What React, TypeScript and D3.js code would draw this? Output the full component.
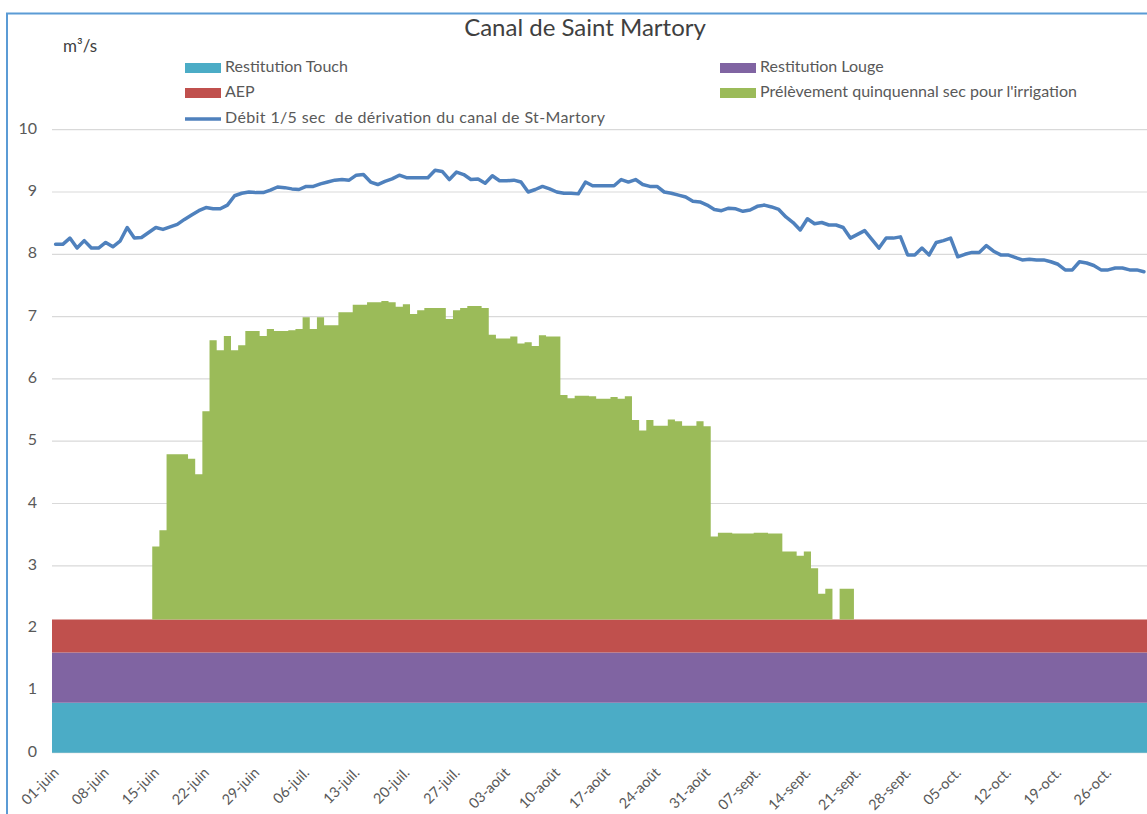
import React from "react";
import * as d3 from "d3";

// ---- Data ----
const startDate = new Date(2019, 5, 1); // 01-juin
const endDate = new Date(2019, 10, 1); // exclusive, 31-oct last
const days = d3.timeDay.range(startDate, endDate); // 153 categories

const tickLabels = [
  "01-juin", "08-juin", "15-juin", "22-juin", "29-juin",
  "06-juil.", "13-juil.", "20-juil.", "27-juil.",
  "03-août", "10-août", "17-août", "24-août", "31-août",
  "07-sept.", "14-sept.", "21-sept.", "28-sept.",
  "05-oct.", "12-oct.", "19-oct.", "26-oct.",
];
const tickStep = 7;

// constant stacked components (m3/s)
const restitutionTouch = 0.8;
const restitutionLouge = 0.81;
const aep = 0.53;

// Prélèvement quinquennal sec (starts 15-juin, index 14)
const prelevementStart = 14;
const prelevement = [
  1.17, 1.43, 2.65, 2.65, 2.65, 2.58, 2.33, 3.34, 4.48, 4.32,
  4.55, 4.32, 4.40, 4.63, 4.63, 4.55, 4.66, 4.63, 4.63, 4.64,
  4.66, 4.85, 4.66, 4.85, 4.72, 4.72, 4.93, 4.93, 5.05, 5.05,
  5.09, 5.09, 5.11, 5.09, 5.02, 5.06, 4.90, 4.96, 5.00, 5.00,
  5.00, 4.82, 4.96, 5.00, 5.03, 5.03, 5.00, 4.57, 4.51, 4.51,
  4.54, 4.43, 4.45, 4.39, 4.56, 4.54, 4.54, 3.60, 3.55, 3.59,
  3.59, 3.58, 3.54, 3.54, 3.57, 3.54, 3.58, 3.20, 3.03, 3.20,
  3.11, 3.11, 3.21, 3.18, 3.11, 3.11, 3.18, 3.10, 1.33, 1.39,
  1.39, 1.38, 1.38, 1.38, 1.39, 1.39, 1.38, 1.38, 1.09, 1.09,
  1.02, 1.09, 0.82, 0.41, 0.49, 0.0, 0.49, 0.49,
];

// Débit 1/5 sec de dérivation (one value per day)
const debit = [
  8.16, 8.16, 8.26, 8.10, 8.22, 8.10, 8.10, 8.19, 8.12, 8.21,
  8.43, 8.26, 8.27, 8.35, 8.43, 8.40, 8.44, 8.48, 8.56, 8.63,
  8.70, 8.75, 8.73, 8.73, 8.79, 8.94, 8.98, 9.00, 8.99, 8.99,
  9.03, 9.08, 9.07, 9.05, 9.04, 9.09, 9.09, 9.13, 9.16, 9.19,
  9.20, 9.19, 9.27, 9.28, 9.16, 9.12, 9.17, 9.21, 9.27, 9.23,
  9.23, 9.23, 9.23, 9.35, 9.33, 9.20, 9.32, 9.28, 9.20, 9.21,
  9.14, 9.26, 9.18, 9.18, 9.19, 9.16, 9.00, 9.04, 9.09, 9.05,
  9.00, 8.98, 8.98, 8.97, 9.16, 9.10, 9.10, 9.10, 9.10, 9.20,
  9.16, 9.20, 9.12, 9.09, 9.09, 9.00, 8.98, 8.95, 8.92, 8.85,
  8.84, 8.79, 8.72, 8.70, 8.74, 8.73, 8.69, 8.71, 8.77, 8.79,
  8.76, 8.72, 8.60, 8.51, 8.39, 8.57, 8.49, 8.51, 8.47, 8.47,
  8.43, 8.26, 8.32, 8.38, 8.24, 8.10, 8.26, 8.26, 8.28, 7.99,
  7.99, 8.10, 7.99, 8.19, 8.22, 8.26, 7.96, 8.00, 8.03, 8.03,
  8.14, 8.05, 7.99, 7.99, 7.95, 7.91, 7.92, 7.91, 7.91, 7.88,
  7.84, 7.75, 7.75, 7.88, 7.86, 7.82, 7.75, 7.75, 7.78, 7.78,
  7.75, 7.75, 7.72,
];

const yTicks = [0, 1, 2, 3, 4, 5, 6, 7, 8, 9, 10];

const seriesNames = {
  touch: "Restitution Touch",
  louge: "Restitution Louge",
  aep: "AEP",
  prel: "Prélèvement quinquennal sec pour l'irrigation",
  debit: "Débit 1/5 sec  de dérivation du canal de St-Martory",
};

const colors = {
  touch: "#4BACC6",
  louge: "#8064A2",
  aep: "#C0504D",
  prel: "#9BBB59",
  debit: "#4F81BD",
};

const FONT = "Lato, 'Open Sans', sans-serif";

export default function App() {
  const W = 1147;
  const H = 814;
  const left = 52;
  const right = 1147.5;
  const y0 = 752.7;
  const y10 = 129.7;

  const idx = days.map((_, i) => i);
  const x = d3.scaleBand<number>().domain(idx).range([left, right]).padding(0);
  const y = d3.scaleLinear().domain([0, 10]).range([y0, y10]);
  const bw = x.bandwidth();

  const rows = idx.map((i) => {
    const p = i >= prelevementStart && i < prelevementStart + prelevement.length
      ? prelevement[i - prelevementStart]
      : 0;
    return { i, touch: restitutionTouch, louge: restitutionLouge, aep, prel: p };
  });
  const stack = d3.stack<any>().keys(["touch", "louge", "aep", "prel"]);
  const stacked = stack(rows);

  // step area: each category contributes its left and right band edges
  const stepArea = d3
    .area<{ px: number; lo: number; hi: number }>()
    .x((d) => d.px)
    .y0((d) => y(d.lo))
    .y1((d) => y(d.hi));

  const layerPath = (s: any) => {
    const pts: { px: number; lo: number; hi: number }[] = [];
    s.forEach((d: any, i: number) => {
      const x0 = x(i) as number;
      pts.push({ px: x0, lo: d[0], hi: d[1] });
      pts.push({ px: x0 + bw, lo: d[0], hi: d[1] });
    });
    return stepArea(pts) as string;
  };

  const line = d3
    .line<number>()
    .x((_, i) => (x(i) as number) + bw / 2)
    .y((d) => y(d));

  const legendItems = [
    { key: "touch", x: 185, y: 68, type: "rect" },
    { key: "louge", x: 720, y: 68, type: "rect" },
    { key: "aep", x: 185, y: 93, type: "rect" },
    { key: "prel", x: 720, y: 93, type: "rect" },
    { key: "debit", x: 185, y: 119, type: "line" },
  ] as const;

  return (
    <svg
      width={W}
      height={H}
      style={{ position: "absolute", left: 0, top: 0, background: "#fff" }}
      fontFamily={FONT}
    >
      <rect x={0} y={0} width={W} height={H} fill="#fff" />
      {/* chart border */}
      <rect x={7} y={13.5} width={1160} height={820} fill="none" stroke="#5B9BD5" strokeWidth={2} />

      {/* title */}
      <text x={585} y={30} textAnchor="middle" dominantBaseline="middle" fontSize={24} fill="#404040">
        Canal de Saint Martory
      </text>
      <text x={63} y={48} dominantBaseline="middle" fontSize={17} fill="#404040">
        m³/s
      </text>

      {/* gridlines */}
      {yTicks.map((t) => (
        <line key={t} x1={left} x2={right} y1={y(t)} y2={y(t)} stroke="#D9D9D9" strokeWidth={1.2} />
      ))}

      {/* stacked layers */}
      {stacked.map((s) => (
        <path key={s.key} d={layerPath(s)} fill={(colors as any)[s.key]} />
      ))}

      {/* line */}
      <path
        d={line(debit) as string}
        fill="none"
        stroke={colors.debit}
        strokeWidth={3.5}
        strokeLinejoin="round"
        strokeLinecap="round"
      />

      {/* y axis labels */}
      {yTicks.map((t) => (
        <text key={t} x={37} y={y(t)} textAnchor="end" dominantBaseline="middle" fontSize={16} fill="#595959">
          {t}
        </text>
      ))}

      {/* x axis labels */}
      {tickLabels.map((lab, k) => {
        const cx = (x(k * tickStep) as number) + bw / 2;
        return (
          <text
            key={lab}
            transform={`translate(${cx + 1.5},${771}) rotate(-45)`}
            textAnchor="end"
            dominantBaseline="middle"
            fontSize={14.5}
            fill="#595959"
          >
            {lab}
          </text>
        );
      })}

      {/* legend */}
      {legendItems.map((it) => (
        <g key={it.key}>
          {it.type === "rect" ? (
            <rect x={it.x} y={it.y - 5} width={36} height={10} fill={(colors as any)[it.key]} />
          ) : (
            <line x1={it.x} x2={it.x + 36} y1={it.y} y2={it.y} stroke={colors.debit} strokeWidth={3.5} />
          )}
          <text
            x={it.x + 40}
            y={it.y}
            dominantBaseline="middle"
            fontSize={16}
            fill="#595959"
            style={{ whiteSpace: "pre" }}
            {...(it.key === "debit" ? { textLength: 380, lengthAdjust: "spacing" } : {})}
          >
            {(seriesNames as any)[it.key]}
          </text>
        </g>
      ))}
    </svg>
  );
}
